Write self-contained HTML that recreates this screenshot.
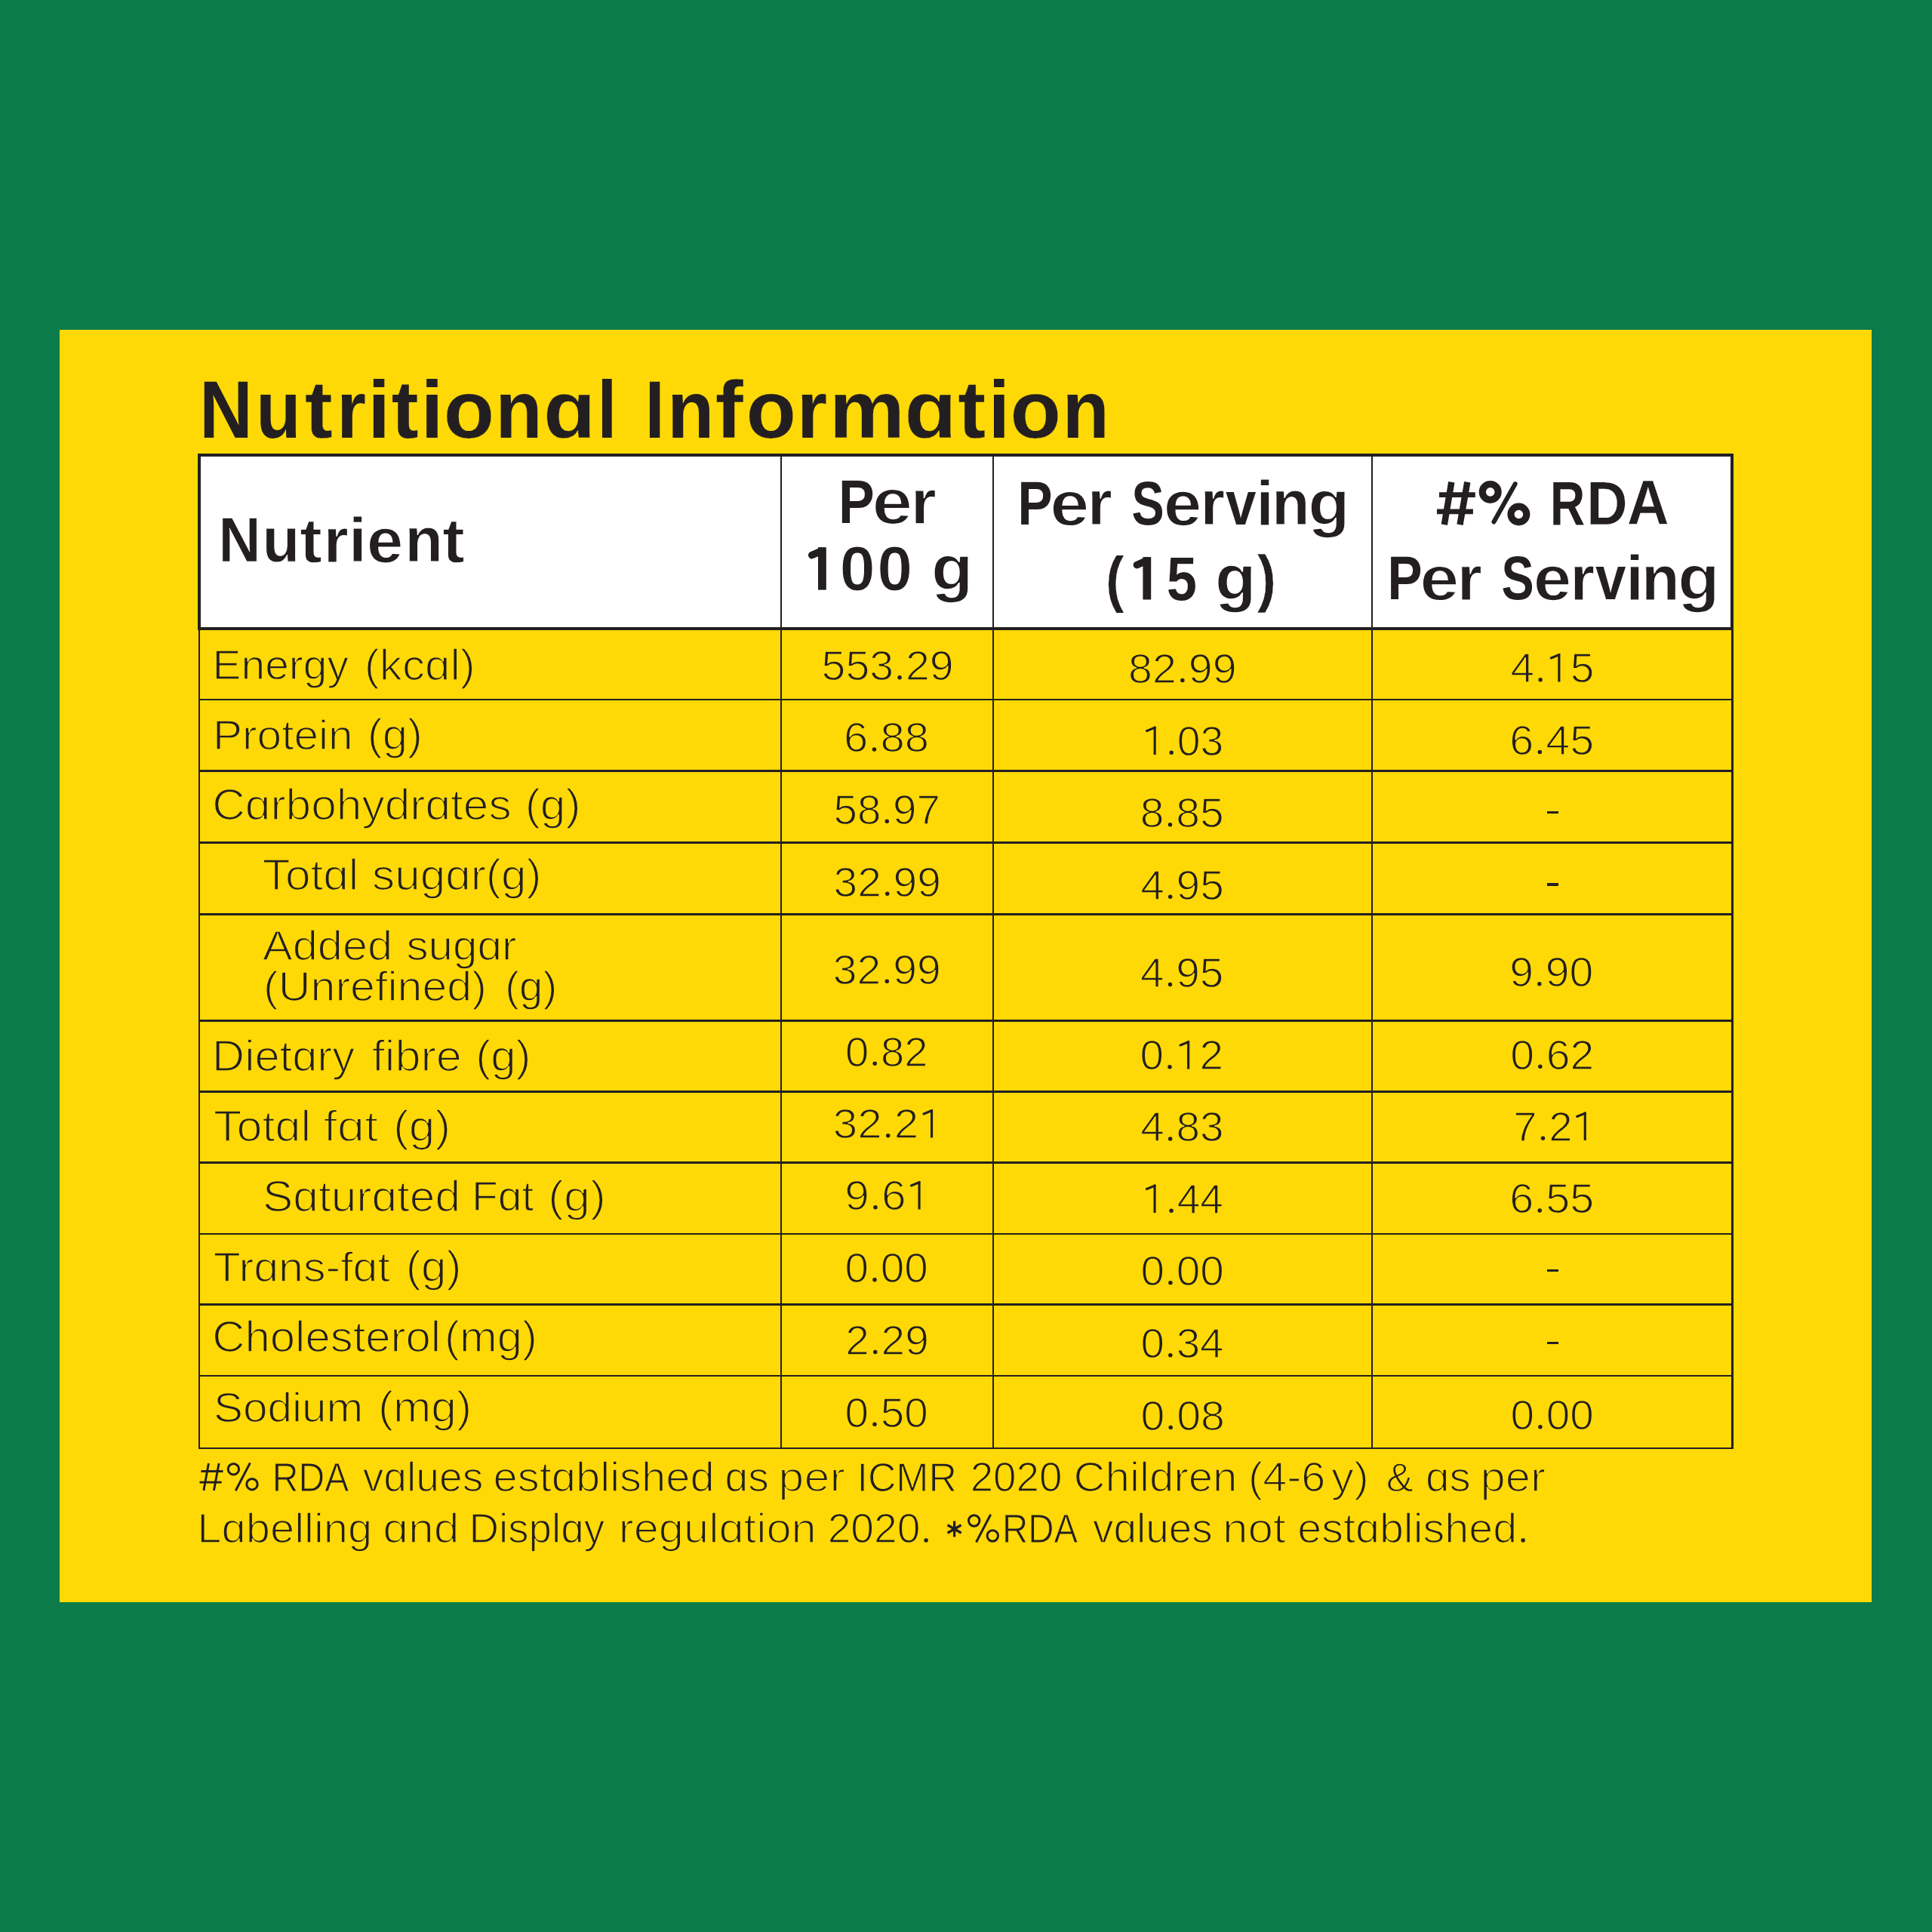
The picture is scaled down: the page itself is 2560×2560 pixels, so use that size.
<!DOCTYPE html>
<html lang="en"><head><meta charset="utf-8"><title>Nutritional Information</title>
<style>
html,body{margin:0;padding:0;}
body{width:2560px;height:2560px;overflow:hidden;background:#0b7c49;position:relative;font-family:"Liberation Sans",sans-serif;}
#g div{position:absolute;}
svg{position:absolute;left:0;top:0;}
#w{position:absolute;left:0;top:0;width:2560px;height:2560px;}
text{fill:#231f20;font-family:"Liberation Sans",sans-serif;}
text.b{font-weight:bold;}
text.r{font-weight:normal;}
</style></head>
<body>
<div id="w">
<div id="g">
<div style="left:79px;top:437px;width:2401px;height:1686px;background:#ffd905"></div>
<div style="left:264px;top:603px;width:2031px;height:230px;background:#ffffff"></div>
<div style="left:262px;top:601px;width:2035px;height:4px;background:#231f20"></div>
<div style="left:262px;top:601px;width:4px;height:232px;background:#231f20"></div>
<div style="left:2293px;top:601px;width:4px;height:232px;background:#231f20"></div>
<div style="left:262px;top:831px;width:2035px;height:4px;background:#231f20"></div>
<div style="left:262.8px;top:833px;width:2.6px;height:1087.3px;background:#231f20"></div>
<div style="left:2294.4px;top:833px;width:2.7px;height:1087.3px;background:#231f20"></div>
<div style="left:1033.5px;top:603px;width:2.6px;height:1317px;background:#231f20"></div>
<div style="left:1314.5px;top:603px;width:2.6px;height:1317px;background:#231f20"></div>
<div style="left:1816.7px;top:603px;width:2.6px;height:1317px;background:#231f20"></div>
<div style="left:262.8px;top:925.5px;width:2034.3px;height:2.6px;background:#231f20"></div>
<div style="left:262.8px;top:1020.3px;width:2034.3px;height:2.6px;background:#231f20"></div>
<div style="left:262.8px;top:1115px;width:2034.3px;height:2.6px;background:#231f20"></div>
<div style="left:262.8px;top:1210.1px;width:2034.3px;height:2.6px;background:#231f20"></div>
<div style="left:262.8px;top:1351.3px;width:2034.3px;height:2.6px;background:#231f20"></div>
<div style="left:262.8px;top:1445.2px;width:2034.3px;height:2.6px;background:#231f20"></div>
<div style="left:262.8px;top:1539.3px;width:2034.3px;height:2.6px;background:#231f20"></div>
<div style="left:262.8px;top:1633.7px;width:2034.3px;height:2.6px;background:#231f20"></div>
<div style="left:262.8px;top:1727.3px;width:2034.3px;height:2.6px;background:#231f20"></div>
<div style="left:262.8px;top:1821.5px;width:2034.3px;height:2.6px;background:#231f20"></div>
<div style="left:262.8px;top:1917.5px;width:2034.3px;height:2.6px;background:#231f20"></div>
<div style="left:2049.5px;top:1074.85px;width:15.5px;height:3.5px;background:#231f20"></div>
<div style="left:2049.5px;top:1170.45px;width:15.5px;height:3.5px;background:#231f20"></div>
<div style="left:2049.5px;top:1681.85px;width:15.5px;height:3.5px;background:#231f20"></div>
<div style="left:2049.5px;top:1777.95px;width:15.5px;height:3.5px;background:#231f20"></div>
</div>
<svg width="2560" height="2560" viewBox="0 0 2560 2560">
<text class="b" x="264.31" y="579.5" font-size="106.98" textLength="70.42" lengthAdjust="spacingAndGlyphs">N</text>
<text class="b" x="339.34" y="579.5" font-size="106.98" textLength="59.37" lengthAdjust="spacingAndGlyphs">u</text>
<text class="b" x="403.77" y="579.63" font-size="107.36" textLength="37" lengthAdjust="spacingAndGlyphs" stroke="#ffd905" stroke-width="0.29">t</text>
<text class="b" x="446.28" y="579.5" font-size="106.98" textLength="38.73" lengthAdjust="spacingAndGlyphs">r</text>
<text class="b" x="487.4" y="579.5" font-size="106.98" textLength="29.34" lengthAdjust="spacingAndGlyphs">i</text>
<text class="b" x="518.79" y="579.51" font-size="107.01" textLength="35.75" lengthAdjust="spacingAndGlyphs" stroke="#ffd905" stroke-width="0.03">t</text>
<text class="b" x="557.66" y="579.5" font-size="106.98" textLength="29.52" lengthAdjust="spacingAndGlyphs">i</text>
<text class="b" x="587.85" y="579.61" font-size="107.29" textLength="67.26" lengthAdjust="spacingAndGlyphs" stroke="#ffd905" stroke-width="0.24">o</text>
<text class="b" x="656.46" y="579.5" font-size="106.98" textLength="61.94" lengthAdjust="spacingAndGlyphs">n</text>
<text class="b" x="720.14" y="579.71" font-size="107.6" textLength="69.22" lengthAdjust="spacingAndGlyphs" stroke="#ffd905" stroke-width="0.48">ɑ</text>
<text class="b" x="791.6" y="579.5" font-size="106.98" textLength="25.78" lengthAdjust="spacingAndGlyphs">l</text>
<text class="b" x="854.7" y="579.5" font-size="106.98" textLength="25.78" lengthAdjust="spacingAndGlyphs">I</text>
<text class="b" x="884.26" y="579.5" font-size="106.98" textLength="61.94" lengthAdjust="spacingAndGlyphs">n</text>
<text class="b" x="947.83" y="579.63" font-size="107.36" textLength="37" lengthAdjust="spacingAndGlyphs" stroke="#ffd905" stroke-width="0.29">f</text>
<text class="b" x="988.69" y="579.54" font-size="107.08" textLength="65.98" lengthAdjust="spacingAndGlyphs" stroke="#ffd905" stroke-width="0.08">o</text>
<text class="b" x="1056.08" y="579.5" font-size="106.98" textLength="39.97" lengthAdjust="spacingAndGlyphs">r</text>
<text class="b" x="1098.75" y="579.7" font-size="107.57" textLength="100.23" lengthAdjust="spacingAndGlyphs" stroke="#ffd905" stroke-width="0.45">m</text>
<text class="b" x="1198.56" y="579.71" font-size="107.58" textLength="69.08" lengthAdjust="spacingAndGlyphs" stroke="#ffd905" stroke-width="0.46">ɑ</text>
<text class="b" x="1269.38" y="579.62" font-size="107.32" textLength="36.88" lengthAdjust="spacingAndGlyphs" stroke="#ffd905" stroke-width="0.26">t</text>
<text class="b" x="1309.96" y="579.5" font-size="106.98" textLength="27.74" lengthAdjust="spacingAndGlyphs">i</text>
<text class="b" x="1338.54" y="579.61" font-size="107.31" textLength="67.38" lengthAdjust="spacingAndGlyphs" stroke="#ffd905" stroke-width="0.25">o</text>
<text class="b" x="1407.76" y="579.5" font-size="106.98" textLength="61.94" lengthAdjust="spacingAndGlyphs">n</text>
<text class="b" x="289.66" y="744.23" font-size="82.65" textLength="55.54" lengthAdjust="spacingAndGlyphs" stroke="#ffffff" stroke-width="0.51">N</text>
<text class="b" x="347.76" y="744.36" font-size="83.03" textLength="49.26" lengthAdjust="spacingAndGlyphs" stroke="#ffffff" stroke-width="0.8">u</text>
<text class="b" x="396.94" y="744.66" font-size="83.9" textLength="29.96" lengthAdjust="spacingAndGlyphs" stroke="#ffffff" stroke-width="1.47">t</text>
<text class="b" x="428.81" y="744.5" font-size="83.42" textLength="32.99" lengthAdjust="spacingAndGlyphs" stroke="#ffffff" stroke-width="1.1">r</text>
<text class="b" x="462.1" y="744.52" font-size="83.49" textLength="23.9" lengthAdjust="spacingAndGlyphs" stroke="#ffffff" stroke-width="1.16">i</text>
<text class="b" x="485.93" y="744.56" font-size="83.62" textLength="48.19" lengthAdjust="spacingAndGlyphs" stroke="#ffffff" stroke-width="1.25">e</text>
<text class="b" x="536.42" y="744.42" font-size="83.21" textLength="50.39" lengthAdjust="spacingAndGlyphs" stroke="#ffffff" stroke-width="0.94">n</text>
<text class="b" x="586.14" y="744.66" font-size="83.9" textLength="29.96" lengthAdjust="spacingAndGlyphs" stroke="#ffffff" stroke-width="1.47">t</text>
<text class="b" x="1110.88" y="693.35" font-size="82.12" textLength="47.72" lengthAdjust="spacingAndGlyphs" stroke="#ffffff" stroke-width="0.11">P</text>
<text class="b" x="1155.2" y="694.22" font-size="84.64" textLength="54.04" lengthAdjust="spacingAndGlyphs" stroke="#ffffff" stroke-width="2.04">e</text>
<text class="b" x="1206.69" y="693.88" font-size="83.66" textLength="34.03" lengthAdjust="spacingAndGlyphs" stroke="#ffffff" stroke-width="1.29">r</text>
<rect x="1084" y="725.2" width="10.8" height="56.4" fill="#231f20"/>
<path d="M1088.8 730L1075.7 735.69" stroke="#231f20" stroke-width="9.6" stroke-linecap="round" fill="none"/>
<text class="b" x="1112.79" y="782.08" font-size="83.37" textLength="46.8" lengthAdjust="spacingAndGlyphs" stroke="#ffffff" stroke-width="1.06">0</text>
<text class="b" x="1162.54" y="782.05" font-size="83.3" textLength="46.4" lengthAdjust="spacingAndGlyphs" stroke="#ffffff" stroke-width="1.01">0</text>
<text class="b" x="1234.06" y="782.3" font-size="84.02" textLength="55.45" lengthAdjust="spacingAndGlyphs" stroke="#ffffff" stroke-width="1.56">g</text>
<text class="b" x="1348.39" y="695" font-size="81.98" textLength="46.03" lengthAdjust="spacingAndGlyphs">P</text>
<text class="b" x="1391.28" y="695.8" font-size="84.29" textLength="52.05" lengthAdjust="spacingAndGlyphs" stroke="#ffffff" stroke-width="1.77">e</text>
<text class="b" x="1441.08" y="695.47" font-size="83.35" textLength="32.68" lengthAdjust="spacingAndGlyphs" stroke="#ffffff" stroke-width="1.05">r</text>
<text class="b" x="1499.39" y="695" font-size="81.98" textLength="43.11" lengthAdjust="spacingAndGlyphs">S</text>
<text class="b" x="1541.66" y="695.7" font-size="84.02" textLength="50.51" lengthAdjust="spacingAndGlyphs" stroke="#ffffff" stroke-width="1.56">e</text>
<text class="b" x="1590.62" y="695.46" font-size="83.31" textLength="32.53" lengthAdjust="spacingAndGlyphs" stroke="#ffffff" stroke-width="1.02">r</text>
<text class="b" x="1624.01" y="695.09" font-size="82.25" textLength="40.53" lengthAdjust="spacingAndGlyphs" stroke="#ffffff" stroke-width="0.21">v</text>
<text class="b" x="1664.19" y="695.5" font-size="83.42" textLength="23.64" lengthAdjust="spacingAndGlyphs" stroke="#ffffff" stroke-width="1.1">i</text>
<text class="b" x="1685.17" y="695.41" font-size="83.16" textLength="50.11" lengthAdjust="spacingAndGlyphs" stroke="#ffffff" stroke-width="0.91">n</text>
<text class="b" x="1733.17" y="695.7" font-size="84" textLength="55.31" lengthAdjust="spacingAndGlyphs" stroke="#ffffff" stroke-width="1.55">g</text>
<text class="b" x="1465.25" y="794.59" font-size="82.25" textLength="23.88" lengthAdjust="spacingAndGlyphs" stroke="#ffffff" stroke-width="0.21">(</text>
<rect x="1514.4" y="738.1" width="10.8" height="56.4" fill="#231f20"/>
<path d="M1519.2 742.9L1506.4 748.59" stroke="#231f20" stroke-width="9.6" stroke-linecap="round" fill="none"/>
<text class="b" x="1545.78" y="794.58" font-size="82.22" textLength="40.31" lengthAdjust="spacingAndGlyphs" stroke="#ffffff" stroke-width="0.19">5</text>
<text class="b" x="1609.96" y="795.15" font-size="83.87" textLength="54.49" lengthAdjust="spacingAndGlyphs" stroke="#ffffff" stroke-width="1.44">g</text>
<text class="b" x="1666.02" y="794.68" font-size="82.52" textLength="24.87" lengthAdjust="spacingAndGlyphs" stroke="#ffffff" stroke-width="0.41">)</text>
<text class="b" x="2054.11" y="695.2" font-size="81.98" textLength="46.11" lengthAdjust="spacingAndGlyphs">R</text>
<text class="b" x="2102.57" y="695.35" font-size="82.43" textLength="53.97" lengthAdjust="spacingAndGlyphs" stroke="#ffffff" stroke-width="0.34">D</text>
<text class="b" x="2155.97" y="695.43" font-size="82.64" textLength="55.52" lengthAdjust="spacingAndGlyphs" stroke="#ffffff" stroke-width="0.5">A</text>
<text class="b" x="1838.39" y="794.3" font-size="81.98" textLength="46.03" lengthAdjust="spacingAndGlyphs">P</text>
<text class="b" x="1881.28" y="795.1" font-size="84.29" textLength="52.05" lengthAdjust="spacingAndGlyphs" stroke="#ffffff" stroke-width="1.77">e</text>
<text class="b" x="1931.08" y="794.77" font-size="83.35" textLength="32.68" lengthAdjust="spacingAndGlyphs" stroke="#ffffff" stroke-width="1.05">r</text>
<text class="b" x="1989.39" y="794.3" font-size="81.98" textLength="43.11" lengthAdjust="spacingAndGlyphs">S</text>
<text class="b" x="2031.66" y="795" font-size="84.02" textLength="50.51" lengthAdjust="spacingAndGlyphs" stroke="#ffffff" stroke-width="1.56">e</text>
<text class="b" x="2080.62" y="794.76" font-size="83.31" textLength="32.53" lengthAdjust="spacingAndGlyphs" stroke="#ffffff" stroke-width="1.02">r</text>
<text class="b" x="2114.01" y="794.39" font-size="82.25" textLength="40.53" lengthAdjust="spacingAndGlyphs" stroke="#ffffff" stroke-width="0.21">v</text>
<text class="b" x="2154.19" y="794.8" font-size="83.42" textLength="23.64" lengthAdjust="spacingAndGlyphs" stroke="#ffffff" stroke-width="1.1">i</text>
<text class="b" x="2175.17" y="794.71" font-size="83.16" textLength="50.11" lengthAdjust="spacingAndGlyphs" stroke="#ffffff" stroke-width="0.91">n</text>
<text class="b" x="2223.17" y="795" font-size="84" textLength="55.31" lengthAdjust="spacingAndGlyphs" stroke="#ffffff" stroke-width="1.55">g</text>
<text class="r" x="281.61" y="900.45" font-size="56.24" textLength="180.24" lengthAdjust="spacingAndGlyphs" stroke="#ffd905" stroke-width="1.44">Energy</text>
<text class="r" x="482.85" y="900.53" font-size="56.48" textLength="146.99" lengthAdjust="spacingAndGlyphs" stroke="#ffd905" stroke-width="1.62">(kcɑl)</text>
<text class="r" x="282.03" y="993.29" font-size="56.37" textLength="185.65" lengthAdjust="spacingAndGlyphs" stroke="#ffd905" stroke-width="1.53">Protein</text>
<text class="r" x="486.77" y="993.32" font-size="56.46" textLength="73.25" lengthAdjust="spacingAndGlyphs" stroke="#ffd905" stroke-width="1.6">(g)</text>
<text class="r" x="281.23" y="1086.44" font-size="56.5" textLength="396.5" lengthAdjust="spacingAndGlyphs" stroke="#ffd905" stroke-width="1.64">Cɑrbohydrɑtes</text>
<text class="r" x="695.73" y="1086.43" font-size="56.49" textLength="73.93" lengthAdjust="spacingAndGlyphs" stroke="#ffd905" stroke-width="1.63">(g)</text>
<text class="r" x="347.72" y="1179.23" font-size="56.49" textLength="127.49" lengthAdjust="spacingAndGlyphs" stroke="#ffd905" stroke-width="1.63">Totɑl</text>
<text class="r" x="493.13" y="1179.23" font-size="56.49" textLength="224.32" lengthAdjust="spacingAndGlyphs" stroke="#ffd905" stroke-width="1.62">sugɑr(g)</text>
<text class="r" x="347.99" y="1272.01" font-size="56.43" textLength="172.17" lengthAdjust="spacingAndGlyphs" stroke="#ffd905" stroke-width="1.58">Added</text>
<text class="r" x="538.4" y="1271.98" font-size="56.35" textLength="146.07" lengthAdjust="spacingAndGlyphs" stroke="#ffd905" stroke-width="1.52">sugɑr</text>
<text class="r" x="349.13" y="1326.4" font-size="56.41" textLength="295.74" lengthAdjust="spacingAndGlyphs" stroke="#ffd905" stroke-width="1.56">(Unrefined)</text>
<text class="r" x="669.33" y="1326.33" font-size="56.2" textLength="68.82" lengthAdjust="spacingAndGlyphs" stroke="#ffd905" stroke-width="1.41">(g)</text>
<text class="r" x="281.13" y="1419.12" font-size="56.44" textLength="188.89" lengthAdjust="spacingAndGlyphs" stroke="#ffd905" stroke-width="1.59">Dietɑry</text>
<text class="r" x="492.75" y="1419.15" font-size="56.56" textLength="119.19" lengthAdjust="spacingAndGlyphs" stroke="#ffd905" stroke-width="1.68">fibre</text>
<text class="r" x="630.26" y="1419.12" font-size="56.46" textLength="73.37" lengthAdjust="spacingAndGlyphs" stroke="#ffd905" stroke-width="1.61">(g)</text>
<text class="r" x="283.1" y="1511.95" font-size="56.54" textLength="128.87" lengthAdjust="spacingAndGlyphs" stroke="#ffd905" stroke-width="1.66">Totɑl</text>
<text class="r" x="428.55" y="1512.05" font-size="56.84" textLength="72.68" lengthAdjust="spacingAndGlyphs" stroke="#ffd905" stroke-width="1.89">fɑt</text>
<text class="r" x="521.11" y="1511.97" font-size="56.61" textLength="75.98" lengthAdjust="spacingAndGlyphs" stroke="#ffd905" stroke-width="1.72">(g)</text>
<text class="r" x="347.98" y="1604.54" font-size="56.5" textLength="262.05" lengthAdjust="spacingAndGlyphs" stroke="#ffd905" stroke-width="1.63">Sɑturɑted</text>
<text class="r" x="624.99" y="1604.45" font-size="56.26" textLength="82.47" lengthAdjust="spacingAndGlyphs" stroke="#ffd905" stroke-width="1.45">Fɑt</text>
<text class="r" x="725.95" y="1604.59" font-size="56.67" textLength="77" lengthAdjust="spacingAndGlyphs" stroke="#ffd905" stroke-width="1.76">(g)</text>
<text class="r" x="282.67" y="1698.1" font-size="56.4" textLength="234.23" lengthAdjust="spacingAndGlyphs" stroke="#ffd905" stroke-width="1.56">Trɑns-fɑt</text>
<text class="r" x="537.85" y="1698.13" font-size="56.47" textLength="73.59" lengthAdjust="spacingAndGlyphs" stroke="#ffd905" stroke-width="1.62">(g)</text>
<text class="r" x="281.27" y="1790.72" font-size="56.46" textLength="302.9" lengthAdjust="spacingAndGlyphs" stroke="#ffd905" stroke-width="1.6">Cholesterol</text>
<text class="r" x="589.08" y="1790.72" font-size="56.45" textLength="122.83" lengthAdjust="spacingAndGlyphs" stroke="#ffd905" stroke-width="1.6">(mg)</text>
<text class="r" x="282.98" y="1883.59" font-size="56.36" textLength="198.33" lengthAdjust="spacingAndGlyphs" stroke="#ffd905" stroke-width="1.53">Sodium</text>
<text class="r" x="500.94" y="1883.63" font-size="56.49" textLength="124.12" lengthAdjust="spacingAndGlyphs" stroke="#ffd905" stroke-width="1.63">(mg)</text>
<text class="r" x="1088.55" y="901.16" font-size="56.27" textLength="95.53" lengthAdjust="spacingAndGlyphs" stroke="#ffd905" stroke-width="1.46">553</text>
<circle cx="1192.04" cy="897.75" r="2.75" fill="#231f20"/>
<text class="r" x="1199.99" y="901.16" font-size="56.27" textLength="63.69" lengthAdjust="spacingAndGlyphs" stroke="#ffd905" stroke-width="1.46">29</text>
<text class="r" x="1118.11" y="996.47" font-size="56.32" textLength="32.27" lengthAdjust="spacingAndGlyphs" stroke="#ffd905" stroke-width="1.5">6</text>
<circle cx="1158.43" cy="993.05" r="2.75" fill="#231f20"/>
<text class="r" x="1166.49" y="996.47" font-size="56.32" textLength="64.53" lengthAdjust="spacingAndGlyphs" stroke="#ffd905" stroke-width="1.5">88</text>
<text class="r" x="1104.49" y="1091.64" font-size="56.22" textLength="62.91" lengthAdjust="spacingAndGlyphs" stroke="#ffd905" stroke-width="1.42">58</text>
<circle cx="1175.26" cy="1088.25" r="2.75" fill="#231f20"/>
<text class="r" x="1183.12" y="1091.64" font-size="56.22" textLength="62.91" lengthAdjust="spacingAndGlyphs" stroke="#ffd905" stroke-width="1.42">97</text>
<text class="r" x="1104.47" y="1187.65" font-size="56.25" textLength="63.33" lengthAdjust="spacingAndGlyphs" stroke="#ffd905" stroke-width="1.44">32</text>
<circle cx="1175.71" cy="1184.25" r="2.75" fill="#231f20"/>
<text class="r" x="1183.62" y="1187.65" font-size="56.25" textLength="63.33" lengthAdjust="spacingAndGlyphs" stroke="#ffd905" stroke-width="1.44">99</text>
<text class="r" x="1103.76" y="1303.65" font-size="56.26" textLength="63.57" lengthAdjust="spacingAndGlyphs" stroke="#ffd905" stroke-width="1.45">32</text>
<circle cx="1175.27" cy="1300.25" r="2.75" fill="#231f20"/>
<text class="r" x="1183.2" y="1303.65" font-size="56.26" textLength="63.57" lengthAdjust="spacingAndGlyphs" stroke="#ffd905" stroke-width="1.45">99</text>
<text class="r" x="1120.11" y="1412.63" font-size="56.19" textLength="31.26" lengthAdjust="spacingAndGlyphs" stroke="#ffd905" stroke-width="1.4">0</text>
<circle cx="1159.18" cy="1409.25" r="2.75" fill="#231f20"/>
<text class="r" x="1166.99" y="1412.63" font-size="56.19" textLength="62.52" lengthAdjust="spacingAndGlyphs" stroke="#ffd905" stroke-width="1.4">82</text>
<text class="r" x="1103.69" y="1508.18" font-size="56.35" textLength="64.92" lengthAdjust="spacingAndGlyphs" stroke="#ffd905" stroke-width="1.52">32</text>
<circle cx="1176.72" cy="1504.75" r="2.75" fill="#231f20"/>
<text class="r" x="1184.83" y="1508.18" font-size="56.35" textLength="32.46" lengthAdjust="spacingAndGlyphs" stroke="#ffd905" stroke-width="1.52">2</text>
<rect x="1233" y="1470.1" width="3.1" height="37.4" fill="#231f20"/>
<path d="M1234.55 1471.65L1223.95 1475.97" stroke="#231f20" stroke-width="3.1" stroke-linecap="round" fill="none"/>
<text class="r" x="1119.16" y="1603.19" font-size="56.37" textLength="32.62" lengthAdjust="spacingAndGlyphs" stroke="#ffd905" stroke-width="1.54">9</text>
<circle cx="1159.93" cy="1599.75" r="2.75" fill="#231f20"/>
<text class="r" x="1168.08" y="1603.19" font-size="56.37" textLength="32.62" lengthAdjust="spacingAndGlyphs" stroke="#ffd905" stroke-width="1.54">6</text>
<rect x="1216.5" y="1565.1" width="3.1" height="37.4" fill="#231f20"/>
<path d="M1218.05 1566.65L1207.45 1570.97" stroke="#231f20" stroke-width="3.1" stroke-linecap="round" fill="none"/>
<text class="r" x="1119.59" y="1699.14" font-size="56.23" textLength="31.51" lengthAdjust="spacingAndGlyphs" stroke="#ffd905" stroke-width="1.43">0</text>
<circle cx="1158.97" cy="1695.75" r="2.75" fill="#231f20"/>
<text class="r" x="1166.84" y="1699.14" font-size="56.23" textLength="63.02" lengthAdjust="spacingAndGlyphs" stroke="#ffd905" stroke-width="1.43">00</text>
<text class="r" x="1120.3" y="1794.94" font-size="56.23" textLength="31.56" lengthAdjust="spacingAndGlyphs" stroke="#ffd905" stroke-width="1.43">2</text>
<circle cx="1159.74" cy="1791.55" r="2.75" fill="#231f20"/>
<text class="r" x="1167.62" y="1794.94" font-size="56.23" textLength="63.12" lengthAdjust="spacingAndGlyphs" stroke="#ffd905" stroke-width="1.43">29</text>
<text class="r" x="1119.59" y="1890.64" font-size="56.23" textLength="31.51" lengthAdjust="spacingAndGlyphs" stroke="#ffd905" stroke-width="1.43">0</text>
<circle cx="1158.97" cy="1887.25" r="2.75" fill="#231f20"/>
<text class="r" x="1166.84" y="1890.64" font-size="56.23" textLength="63.02" lengthAdjust="spacingAndGlyphs" stroke="#ffd905" stroke-width="1.43">50</text>
<text class="r" x="1495.05" y="904.96" font-size="56.28" textLength="63.8" lengthAdjust="spacingAndGlyphs" stroke="#ffd905" stroke-width="1.46">82</text>
<circle cx="1566.82" cy="901.55" r="2.75" fill="#231f20"/>
<text class="r" x="1574.78" y="904.96" font-size="56.28" textLength="63.8" lengthAdjust="spacingAndGlyphs" stroke="#ffd905" stroke-width="1.46">99</text>
<rect x="1528.6" y="962.6" width="3.1" height="37.4" fill="#231f20"/>
<path d="M1530.15 964.15L1519.55 968.47" stroke="#231f20" stroke-width="3.1" stroke-linecap="round" fill="none"/>
<circle cx="1552.19" cy="997.25" r="2.75" fill="#231f20"/>
<text class="r" x="1559.86" y="1000.61" font-size="56.12" textLength="61.38" lengthAdjust="spacingAndGlyphs" stroke="#ffd905" stroke-width="1.34">03</text>
<text class="r" x="1510.87" y="1096.05" font-size="56.25" textLength="31.69" lengthAdjust="spacingAndGlyphs" stroke="#ffd905" stroke-width="1.44">8</text>
<circle cx="1550.47" cy="1092.65" r="2.75" fill="#231f20"/>
<text class="r" x="1558.39" y="1096.05" font-size="56.25" textLength="63.37" lengthAdjust="spacingAndGlyphs" stroke="#ffd905" stroke-width="1.44">85</text>
<text class="r" x="1511.17" y="1191.65" font-size="56.24" textLength="31.6" lengthAdjust="spacingAndGlyphs" stroke="#ffd905" stroke-width="1.43">4</text>
<circle cx="1550.66" cy="1188.25" r="2.75" fill="#231f20"/>
<text class="r" x="1558.55" y="1191.65" font-size="56.24" textLength="63.2" lengthAdjust="spacingAndGlyphs" stroke="#ffd905" stroke-width="1.43">95</text>
<text class="r" x="1511.07" y="1307.94" font-size="56.23" textLength="31.51" lengthAdjust="spacingAndGlyphs" stroke="#ffd905" stroke-width="1.43">4</text>
<circle cx="1550.45" cy="1304.55" r="2.75" fill="#231f20"/>
<text class="r" x="1558.32" y="1307.94" font-size="56.23" textLength="63.02" lengthAdjust="spacingAndGlyphs" stroke="#ffd905" stroke-width="1.43">95</text>
<text class="r" x="1510.59" y="1417.14" font-size="56.23" textLength="31.53" lengthAdjust="spacingAndGlyphs" stroke="#ffd905" stroke-width="1.43">0</text>
<circle cx="1550" cy="1413.75" r="2.75" fill="#231f20"/>
<rect x="1573.09" y="1379.1" width="3.1" height="37.4" fill="#231f20"/>
<path d="M1574.64 1380.65L1564.04 1384.97" stroke="#231f20" stroke-width="3.1" stroke-linecap="round" fill="none"/>
<text class="r" x="1589.41" y="1417.14" font-size="56.23" textLength="31.53" lengthAdjust="spacingAndGlyphs" stroke="#ffd905" stroke-width="1.43">2</text>
<text class="r" x="1511.27" y="1512.34" font-size="56.23" textLength="31.51" lengthAdjust="spacingAndGlyphs" stroke="#ffd905" stroke-width="1.43">4</text>
<circle cx="1550.65" cy="1508.95" r="2.75" fill="#231f20"/>
<text class="r" x="1558.52" y="1512.34" font-size="56.23" textLength="63.02" lengthAdjust="spacingAndGlyphs" stroke="#ffd905" stroke-width="1.43">83</text>
<rect x="1528.5" y="1569.6" width="3.1" height="37.4" fill="#231f20"/>
<path d="M1530.05 1571.15L1519.45 1575.47" stroke="#231f20" stroke-width="3.1" stroke-linecap="round" fill="none"/>
<circle cx="1552.03" cy="1604.25" r="2.75" fill="#231f20"/>
<text class="r" x="1559.67" y="1607.6" font-size="56.11" textLength="61.2" lengthAdjust="spacingAndGlyphs" stroke="#ffd905" stroke-width="1.34">44</text>
<text class="r" x="1511.49" y="1703.04" font-size="56.23" textLength="31.54" lengthAdjust="spacingAndGlyphs" stroke="#ffd905" stroke-width="1.43">0</text>
<circle cx="1550.9" cy="1699.65" r="2.75" fill="#231f20"/>
<text class="r" x="1558.78" y="1703.04" font-size="56.23" textLength="63.08" lengthAdjust="spacingAndGlyphs" stroke="#ffd905" stroke-width="1.43">00</text>
<text class="r" x="1511.49" y="1799.14" font-size="56.22" textLength="31.45" lengthAdjust="spacingAndGlyphs" stroke="#ffd905" stroke-width="1.42">0</text>
<circle cx="1550.8" cy="1795.75" r="2.75" fill="#231f20"/>
<text class="r" x="1558.65" y="1799.14" font-size="56.22" textLength="62.89" lengthAdjust="spacingAndGlyphs" stroke="#ffd905" stroke-width="1.42">34</text>
<text class="r" x="1511.46" y="1894.85" font-size="56.26" textLength="31.81" lengthAdjust="spacingAndGlyphs" stroke="#ffd905" stroke-width="1.45">0</text>
<circle cx="1551.21" cy="1891.45" r="2.75" fill="#231f20"/>
<text class="r" x="1559.16" y="1894.85" font-size="56.26" textLength="63.62" lengthAdjust="spacingAndGlyphs" stroke="#ffd905" stroke-width="1.45">08</text>
<text class="r" x="2001.56" y="904.15" font-size="56.25" textLength="31.66" lengthAdjust="spacingAndGlyphs" stroke="#ffd905" stroke-width="1.44">4</text>
<circle cx="2041.13" cy="900.75" r="2.75" fill="#231f20"/>
<rect x="2064.32" y="866.1" width="3.1" height="37.4" fill="#231f20"/>
<path d="M2065.87 867.65L2055.27 871.97" stroke="#231f20" stroke-width="3.1" stroke-linecap="round" fill="none"/>
<text class="r" x="2080.7" y="904.15" font-size="56.25" textLength="31.66" lengthAdjust="spacingAndGlyphs" stroke="#ffd905" stroke-width="1.44">5</text>
<text class="r" x="2000.35" y="999.96" font-size="56.28" textLength="31.96" lengthAdjust="spacingAndGlyphs" stroke="#ffd905" stroke-width="1.47">6</text>
<circle cx="2040.29" cy="996.55" r="2.75" fill="#231f20"/>
<text class="r" x="2048.27" y="999.96" font-size="56.28" textLength="63.92" lengthAdjust="spacingAndGlyphs" stroke="#ffd905" stroke-width="1.47">45</text>
<text class="r" x="2000.18" y="1307.25" font-size="56.25" textLength="31.72" lengthAdjust="spacingAndGlyphs" stroke="#ffd905" stroke-width="1.45">9</text>
<circle cx="2039.82" cy="1303.85" r="2.75" fill="#231f20"/>
<text class="r" x="2047.74" y="1307.25" font-size="56.25" textLength="63.43" lengthAdjust="spacingAndGlyphs" stroke="#ffd905" stroke-width="1.45">90</text>
<text class="r" x="2001.16" y="1416.65" font-size="56.26" textLength="31.75" lengthAdjust="spacingAndGlyphs" stroke="#ffd905" stroke-width="1.45">0</text>
<circle cx="2040.84" cy="1413.25" r="2.75" fill="#231f20"/>
<text class="r" x="2048.77" y="1416.65" font-size="56.26" textLength="63.49" lengthAdjust="spacingAndGlyphs" stroke="#ffd905" stroke-width="1.45">62</text>
<text class="r" x="2005.33" y="1511.63" font-size="56.2" textLength="31.32" lengthAdjust="spacingAndGlyphs" stroke="#ffd905" stroke-width="1.41">7</text>
<circle cx="2044.47" cy="1508.25" r="2.75" fill="#231f20"/>
<text class="r" x="2052.29" y="1511.63" font-size="56.2" textLength="31.32" lengthAdjust="spacingAndGlyphs" stroke="#ffd905" stroke-width="1.41">2</text>
<rect x="2098.7" y="1473.6" width="3.1" height="37.4" fill="#231f20"/>
<path d="M2100.25 1475.15L2089.65 1479.47" stroke="#231f20" stroke-width="3.1" stroke-linecap="round" fill="none"/>
<text class="r" x="2000.24" y="1607.46" font-size="56.29" textLength="31.99" lengthAdjust="spacingAndGlyphs" stroke="#ffd905" stroke-width="1.47">6</text>
<circle cx="2040.22" cy="1604.05" r="2.75" fill="#231f20"/>
<text class="r" x="2048.21" y="1607.46" font-size="56.29" textLength="63.98" lengthAdjust="spacingAndGlyphs" stroke="#ffd905" stroke-width="1.47">55</text>
<text class="r" x="2001.49" y="1894.24" font-size="56.23" textLength="31.54" lengthAdjust="spacingAndGlyphs" stroke="#ffd905" stroke-width="1.43">0</text>
<circle cx="2040.9" cy="1890.85" r="2.75" fill="#231f20"/>
<text class="r" x="2048.78" y="1894.24" font-size="56.23" textLength="63.08" lengthAdjust="spacingAndGlyphs" stroke="#ffd905" stroke-width="1.43">00</text>
<text class="r" x="360.78" y="1975.87" font-size="54.13" textLength="101.46" lengthAdjust="spacingAndGlyphs" stroke="#ffd905" stroke-width="1.04">RDA</text>
<text class="r" x="480.75" y="1976.05" font-size="54.64" textLength="159.62" lengthAdjust="spacingAndGlyphs" stroke="#ffd905" stroke-width="1.43">vɑlues</text>
<text class="r" x="653.47" y="1976.11" font-size="54.84" textLength="293.3" lengthAdjust="spacingAndGlyphs" stroke="#ffd905" stroke-width="1.59">estɑblished</text>
<text class="r" x="960.63" y="1976.05" font-size="54.64" textLength="58.34" lengthAdjust="spacingAndGlyphs" stroke="#ffd905" stroke-width="1.43">ɑs</text>
<text class="r" x="1031.38" y="1976.19" font-size="55.06" textLength="88.51" lengthAdjust="spacingAndGlyphs" stroke="#ffd905" stroke-width="1.76">per</text>
<text class="r" x="1135.49" y="1975.96" font-size="54.4" textLength="132.47" lengthAdjust="spacingAndGlyphs" stroke="#ffd905" stroke-width="1.25">ICMR</text>
<text class="r" x="1285.7" y="1976.03" font-size="54.6" textLength="121.69" lengthAdjust="spacingAndGlyphs" stroke="#ffd905" stroke-width="1.41">2020</text>
<text class="r" x="1422.55" y="1976.12" font-size="54.86" textLength="216.94" lengthAdjust="spacingAndGlyphs" stroke="#ffd905" stroke-width="1.6">Children</text>
<text class="r" x="1654.1" y="1976.1" font-size="54.8" textLength="102.23" lengthAdjust="spacingAndGlyphs" stroke="#ffd905" stroke-width="1.56">(4-6</text>
<text class="r" x="1764.14" y="1976.16" font-size="54.96" textLength="49.91" lengthAdjust="spacingAndGlyphs" stroke="#ffd905" stroke-width="1.68">y)</text>
<text class="r" x="1836.7" y="1976.02" font-size="54.55" textLength="36" lengthAdjust="spacingAndGlyphs" stroke="#ffd905" stroke-width="1.37">&amp;</text>
<text class="r" x="1889.05" y="1976.08" font-size="54.73" textLength="59.8" lengthAdjust="spacingAndGlyphs" stroke="#ffd905" stroke-width="1.51">ɑs</text>
<text class="r" x="1961.51" y="1976.15" font-size="54.96" textLength="86.33" lengthAdjust="spacingAndGlyphs" stroke="#ffd905" stroke-width="1.68">per</text>
<text class="r" x="261.36" y="2044.41" font-size="54.83" textLength="231.8" lengthAdjust="spacingAndGlyphs" stroke="#ffd905" stroke-width="1.58">Lɑbelling</text>
<text class="r" x="507.22" y="2044.48" font-size="55.03" textLength="101.37" lengthAdjust="spacingAndGlyphs" stroke="#ffd905" stroke-width="1.73">ɑnd</text>
<text class="r" x="621.48" y="2044.33" font-size="54.61" textLength="179.65" lengthAdjust="spacingAndGlyphs" stroke="#ffd905" stroke-width="1.41">Displɑy</text>
<text class="r" x="819.82" y="2044.46" font-size="54.96" textLength="261.89" lengthAdjust="spacingAndGlyphs" stroke="#ffd905" stroke-width="1.68">regulɑtion</text>
<text class="r" x="1096.67" y="2044.34" font-size="54.64" textLength="122.72" lengthAdjust="spacingAndGlyphs" stroke="#ffd905" stroke-width="1.43">2020</text>
<circle cx="1227.05" cy="2040.95" r="2.75" fill="#231f20"/>
<text class="r" x="1327.94" y="2044.15" font-size="54.08" textLength="100.18" lengthAdjust="spacingAndGlyphs" stroke="#ffd905" stroke-width="1.01">RDA</text>
<text class="r" x="1448.06" y="2044.34" font-size="54.62" textLength="158.79" lengthAdjust="spacingAndGlyphs" stroke="#ffd905" stroke-width="1.42">vɑlues</text>
<text class="r" x="1620.06" y="2044.47" font-size="55" textLength="83.8" lengthAdjust="spacingAndGlyphs" stroke="#ffd905" stroke-width="1.71">not</text>
<text class="r" x="1719.2" y="2044.4" font-size="54.81" textLength="290.96" lengthAdjust="spacingAndGlyphs" stroke="#ffd905" stroke-width="1.56">estɑblished</text>
<circle cx="2018.15" cy="2040.95" r="2.75" fill="#231f20"/>
<path d="M1264.6 2015.6L1264.6 2036.4 M1255.59 2020.8L1273.61 2031.2 M1255.59 2031.2L1273.61 2020.8" stroke="#231f20" stroke-width="3.3" fill="none"/>
<path d="M276.4 1939L269.9 1975.1" stroke="#231f20" stroke-width="2.9" stroke-linecap="butt" fill="none"/>
<path d="M290.1 1939L283.4 1975.1" stroke="#231f20" stroke-width="2.9" stroke-linecap="butt" fill="none"/>
<path d="M266.4 1949.5L295.5 1949.5" stroke="#231f20" stroke-width="2.9" stroke-linecap="butt" fill="none"/>
<path d="M264.5 1964.1L293.6 1964.1" stroke="#231f20" stroke-width="2.9" stroke-linecap="butt" fill="none"/>
<circle cx="309.4" cy="1946.7" r="7.2" stroke="#231f20" stroke-width="3" fill="none"/>
<circle cx="334" cy="1966.7" r="7.2" stroke="#231f20" stroke-width="3" fill="none"/>
<path d="M331.4 1938.4L312.2 1975.2" stroke="#231f20" stroke-width="3" stroke-linecap="butt" fill="none"/>
<circle cx="1290.7" cy="2015" r="7.2" stroke="#231f20" stroke-width="3" fill="none"/>
<circle cx="1315.3" cy="2035" r="7.2" stroke="#231f20" stroke-width="3" fill="none"/>
<path d="M1312.7 2006.7L1293.5 2043.5" stroke="#231f20" stroke-width="3" stroke-linecap="butt" fill="none"/>
<path d="M1923.3 638.8L1913.8 695.2" stroke="#231f20" stroke-width="8.4" stroke-linecap="butt" fill="none"/>
<path d="M1944.3 638.8L1934.5 695.2" stroke="#231f20" stroke-width="8.4" stroke-linecap="butt" fill="none"/>
<path d="M1907 655.7L1954.8 655.7" stroke="#231f20" stroke-width="6.8" stroke-linecap="butt" fill="none"/>
<path d="M1904 677.8L1951.9 677.8" stroke="#231f20" stroke-width="6.8" stroke-linecap="butt" fill="none"/>
<circle cx="1974.7" cy="651.9" r="10.4" stroke="#231f20" stroke-width="9.2" fill="none"/>
<circle cx="2012.4" cy="681.5" r="10.4" stroke="#231f20" stroke-width="9.2" fill="none"/>
<path d="M2007.7 641.2L1979.4 691.5" stroke="#231f20" stroke-width="6" stroke-linecap="round" fill="none"/>
</svg>
</div>
</body></html>
